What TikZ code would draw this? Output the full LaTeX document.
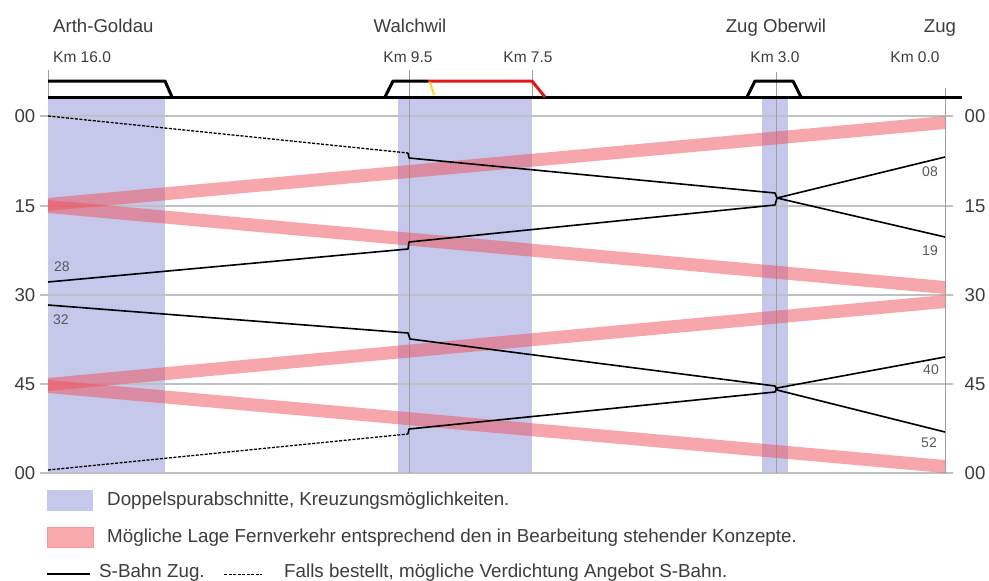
\documentclass[tikz,border=0pt]{standalone}
\usepackage{fontspec}
\setmainfont{Liberation Sans}
\definecolor{dsblue}{RGB}{197,200,234}
\definecolor{fvred}{RGB}{240,80,90}
\definecolor{fvlegend}{RGB}{248,170,172}
\definecolor{gridgray}{RGB}{192,192,192}
\definecolor{txt}{RGB}{60,60,60}
\definecolor{trackred}{RGB}{225,25,25}
\definecolor{trackyellow}{RGB}{250,215,40}
\tikzset{
 track/.style={line width=3pt, line join=round},
 gridline/.style={gridgray, line width=1.5pt},
 axisline/.style={gray!75, line width=0.6pt},
 dsbox/.style={fill=dsblue, draw=none},
 fvband/.style={fill=fvred, fill opacity=0.5, draw=none},
 sbahn/.style={black, line width=1.6pt, line join=round},
 sbahnopt/.style={black, line width=1.3pt, dash pattern=on 3pt off 1.5pt},
 station/.style={font=\fontsize{18.6}{20}\selectfont, text=txt, inner sep=0pt},
 kmlabel/.style={font=\fontsize{15.5}{17}\selectfont, text=txt, inner sep=0pt},
 ticklabel/.style={font=\fontsize{18.6}{20}\selectfont, text=txt, inner sep=0pt},
 minlabel/.style={font=\fontsize{14}{16}\selectfont, text=txt!85, inner sep=0pt},
 legendtext/.style={font=\fontsize{18.8}{20}\selectfont, text=txt, inner sep=0pt, anchor=west},
}
\begin{document}
\begin{tikzpicture}[x=1pt,y=-1pt]
\useasboundingbox (0,0) rectangle (989,581);

% double track sections
\fill[dsbox] (48,98) rectangle (165,473);
\fill[dsbox] (398,98) rectangle (532,473);
\fill[dsbox] (762,98) rectangle (788,473);

% horizontal grid
\foreach \yy in {116,206,295,384,473}
  \draw[gridline] (40,\yy) -- (953,\yy);

% vertical thin lines
\draw[axisline] (48,70) -- (48,97);
\draw[axisline] (409,70) -- (409,473);
\draw[axisline] (532,70) -- (532,97);
\draw[axisline] (776,72) -- (776,473);
\draw[axisline] (945,88) -- (945,473);

% time labels
\node[ticklabel] (l00) at (25,116) {00};
\node[ticklabel] (l15) at (25,206) {15};
\node[ticklabel] (l30) at (25,295) {30};
\node[ticklabel] (l45) at (25,384) {45};
\node[ticklabel] (l60) at (25,473) {00};
\node[ticklabel] (r00) at (975,116) {00};
\node[ticklabel] (r15) at (975,206) {15};
\node[ticklabel] (r30) at (975,295) {30};
\node[ticklabel] (r45) at (975,384) {45};
\node[ticklabel] (r60) at (975,473) {00};

% long-distance bands
\fill[fvband] (48,198) -- (945,116) -- (945,129) -- (48,211) -- cycle;
\fill[fvband] (48,200) -- (945,281) -- (945,294) -- (48,213) -- cycle;
\fill[fvband] (48,378) -- (945,295) -- (945,308) -- (48,391) -- cycle;
\fill[fvband] (48,380) -- (945,460) -- (945,473) -- (48,393) -- cycle;

% track schematic
\draw[track] (48,97) -- (962,97);
\draw[track] (48,81) -- (165,81) -- (172,97);
\draw[track] (385,97) -- (393,81) -- (428,81);
\draw[track, trackred] (428,81) -- (532,81) -- (545,97);
\draw[trackyellow, line width=2pt] (430,82) -- (434,95);
\draw[track] (747,97) -- (755,81) -- (793,81) -- (801,97);

% station names
\node[station, anchor=base west] (ag) at (53,32) {Arth-Goldau};
\node[station, anchor=base] (wa) at (410,32) {Walchwil};
\node[station, anchor=base] (zo) at (776,32) {Zug Oberwil};
\node[station, anchor=base] (zu) at (940,32) {Zug};
\node[kmlabel, anchor=base west] (k16) at (53,62) {Km 16.0};
\node[kmlabel, anchor=base] (k95) at (408,62) {Km 9.5};
\node[kmlabel, anchor=base] (k75) at (528,62) {Km 7.5};
\node[kmlabel, anchor=base] (k30) at (775,62) {Km 3.0};
\node[kmlabel, anchor=base] (k00) at (915,62) {Km 0.0};

% S-Bahn path points
\coordinate (a0) at (48,116);
\coordinate (a1) at (408,153);
\coordinate (a2) at (409,158);
\coordinate (a3) at (775,193);
\coordinate (x1) at (777,198);
\coordinate (a4) at (945,237);
\coordinate (b0) at (945,157);
\coordinate (b1) at (775,205);
\coordinate (b2) at (409,242);
\coordinate (b3) at (408,249);
\coordinate (b4) at (48,282);
\coordinate (c0) at (48,305);
\coordinate (c1) at (408,333);
\coordinate (c2) at (410,339);
\coordinate (c3) at (775,386);
\coordinate (c4) at (777,390);
\coordinate (c5) at (945,432);
\coordinate (d0) at (48,470);
\coordinate (d1) at (408,434);
\coordinate (d2) at (409,429);
\coordinate (d3) at (775,392);
\coordinate (d4) at (777,388);
\coordinate (d5) at (945,357);

\draw[sbahnopt] (a0) -- (a1);
\draw[sbahn] (a1) -- (a2) -- (a3) -- (x1) -- (a4);
\draw[sbahn] (b0) -- (x1) -- (b1) -- (b2) -- (b3) -- (b4);
\draw[sbahn] (c0) -- (c1) -- (c2) -- (c3) -- (c4) -- (c5);
\draw[sbahnopt] (d0) -- (d1);
\draw[sbahn] (d1) -- (d2) -- (d3) -- (d4) -- (d5);

% minute labels
\node[minlabel] (m28) at (62,267) {28};
\node[minlabel] (m32) at (61,320) {32};
\node[minlabel] (m08) at (930,172) {08};
\node[minlabel] (m19) at (930,251) {19};
\node[minlabel] (m40) at (931,370) {40};
\node[minlabel] (m52) at (929,443) {52};

% legend
\fill[dsblue] (47,490) rectangle (93,511);
\node[legendtext] (lg1) at (107,501) {Doppelspurabschnitte, Kreuzungsmöglichkeiten.};
\filldraw[fill=fvlegend, draw=fvred!60, line width=0.6pt] (47,527) rectangle (93,547);
\node[legendtext] (lg2) at (107,538) {Mögliche Lage Fernverkehr entsprechend den in Bearbeitung stehender Konzepte.};
\coordinate (ls0) at (47,574);
\coordinate (ls1) at (90,574);
\draw[sbahn] (ls0) -- (ls1);
\node[legendtext] (lg3) at (99,573) {S-Bahn Zug.};
\coordinate (ld0) at (224,574);
\coordinate (ld1) at (262,574);
\draw[sbahnopt, line width=1pt] (ld0) -- (ld1);
\node[legendtext] (lg4) at (284,573) {Falls bestellt, mögliche Verdichtung Angebot S-Bahn.};
\end{tikzpicture}
\end{document}
